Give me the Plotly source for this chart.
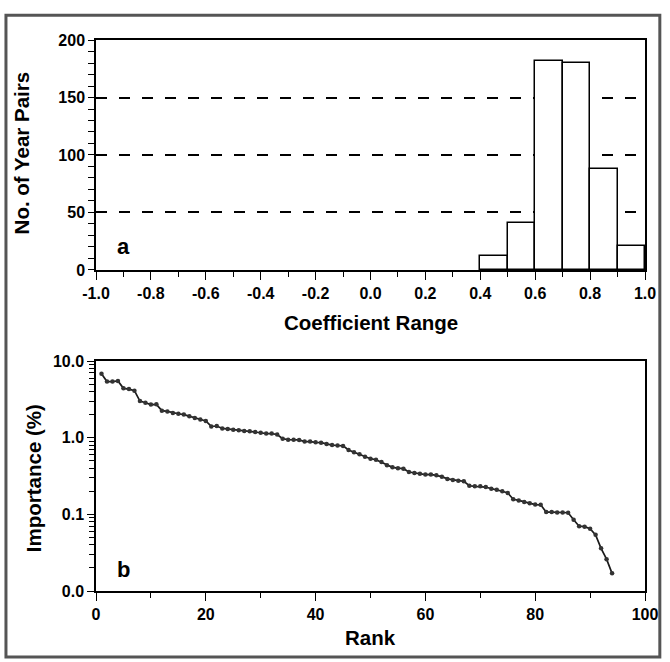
import plotly.graph_objects as go

# ---- panel a: histogram of coefficients ----
bin_left = [0.4, 0.5, 0.6, 0.7, 0.8, 0.9]
bin_width = 0.1
year_pairs = [12, 41, 182, 180, 88, 21]

# ---- panel b: importance by rank ----
importance = [
    6.8, 5.4, 5.4, 5.5, 4.4, 4.3, 4.1, 3.0, 2.85, 2.7,
    2.72, 2.25, 2.2, 2.1, 2.05, 2.0, 1.9, 1.8, 1.72, 1.65,
    1.4, 1.42, 1.32, 1.3, 1.27, 1.25, 1.22, 1.21, 1.19, 1.16,
    1.13, 1.13, 1.1, 0.97, 0.94, 0.94, 0.935, 0.89, 0.89, 0.87,
    0.86, 0.83, 0.8, 0.79, 0.78, 0.69, 0.645, 0.61, 0.565, 0.532,
    0.516, 0.48, 0.436, 0.41, 0.40, 0.394, 0.357, 0.346, 0.339, 0.33,
    0.332, 0.323, 0.31, 0.29, 0.28, 0.275, 0.27, 0.236, 0.232, 0.232,
    0.227, 0.216, 0.209, 0.2, 0.19, 0.157, 0.152, 0.145, 0.14, 0.134,
    0.133, 0.107, 0.107, 0.106, 0.106, 0.105, 0.085, 0.07, 0.069, 0.065,
    0.054, 0.036, 0.026, 0.017,
]
rank = list(range(1, len(importance) + 1))

x_ticks_a = [-1.0, -0.8, -0.6, -0.4, -0.2, 0.0, 0.2, 0.4, 0.6, 0.8, 1.0]
x_ticktext_a = ["-1.0", "-0.8", "-0.6", "-0.4", "-0.2", "0.0", "0.2", "0.4", "0.6", "0.8", "1.0"]
y_ticks_a = [0, 50, 100, 150, 200]
x_ticks_b = [0, 20, 40, 60, 80, 100]
y_ticks_b = [0.01, 0.1, 1, 10]
y_ticktext_b = ["0.0", "0.1", "1.0", "10.0"]
y_minor_b = [m * d for d in (0.01, 0.1, 1) for m in range(2, 10)]

FONT = "Liberation Sans, Arial, Helvetica, sans-serif"
tickfont = dict(family=FONT, size=16, color="black", weight="bold")
titlefont = dict(family=FONT, size=20.5, color="black")

fig = go.Figure()

fig.add_trace(go.Bar(
    x=[b + bin_width / 2 for b in bin_left], y=year_pairs, width=bin_width,
    marker=dict(color="white", line=dict(color="black", width=1.5)),
    xaxis="x", yaxis="y", showlegend=False,
))

fig.add_trace(go.Scatter(
    x=rank, y=importance, mode="lines+markers",
    line=dict(color="#1a1a1a", width=1.7),
    marker=dict(color="#333", size=4.5),
    xaxis="x2", yaxis="y2", showlegend=False,
))

axis_common = dict(showline=True, linecolor="black", linewidth=1.5, mirror=True,
                   ticks="outside", tickcolor="black", tickwidth=1.3,
                   tickfont=tickfont, zeroline=False)

fig.update_layout(
    width=670, height=662,
    margin=dict(l=96, r=19, t=40, b=71),
    paper_bgcolor="white", plot_bgcolor="white",
    bargap=0,
    xaxis=dict(axis_common, domain=[0, 1], anchor="y", range=[-1, 1],
               tickmode="array", tickvals=x_ticks_a, ticktext=x_ticktext_a, ticklen=8,
               minor=dict(dtick=0.1, tick0=-1, ticks="outside", ticklen=5, tickcolor="black"),
               showgrid=False),
    yaxis=dict(axis_common, domain=[0.5826, 1], anchor="x", range=[0, 200],
               tickmode="array", tickvals=y_ticks_a, ticklen=6,
               minor=dict(dtick=10, tick0=0, ticks="outside", ticklen=6, tickcolor="black"),
               showgrid=True, gridcolor="black", gridwidth=1.5, griddash="11px,12px"),
    xaxis2=dict(axis_common, domain=[0, 1], anchor="y2", range=[0, 100],
                tickmode="array", tickvals=x_ticks_b, ticklen=8,
                minor=dict(dtick=10, tick0=0, ticks="outside", ticklen=5, tickcolor="black"),
                showgrid=False),
    yaxis2=dict(axis_common, domain=[0, 0.4174], anchor="x2", type="log", range=[-2, 1],
                tickmode="array", tickvals=y_ticks_b, ticktext=y_ticktext_b, ticklen=7,
                minor=dict(tickmode="array", tickvals=y_minor_b, ticks="outside",
                           ticklen=5, tickcolor="black"),
                showgrid=False),
    annotations=[
        dict(text="<b>No. of Year Pairs</b>", xref="paper", yref="paper", x=-0.134, y=0.795,
             textangle=-90, showarrow=False, font=titlefont, xanchor="center", yanchor="middle"),
        dict(text="<b>Coefficient Range</b>", xref="paper", yref="paper", x=0.5, y=0.488,
             showarrow=False, font=titlefont, xanchor="center", yanchor="middle"),
        dict(text="<b>Importance (%)</b>", xref="paper", yref="paper", x=-0.114, y=0.2055,
             textangle=-90, showarrow=False, font=titlefont, xanchor="center", yanchor="middle"),
        dict(text="<b>Rank</b>", xref="paper", yref="paper", x=0.5, y=-0.085,
             showarrow=False, font=titlefont, xanchor="center", yanchor="middle"),
        dict(text="<b>a</b>", xref="x", yref="y", x=-0.9, y=20, showarrow=False,
             font=dict(family=FONT, size=22, color="black")),
        dict(text="<b>b</b>", xref="x2", yref="y2", x=5, y=-1.72, showarrow=False,
             font=dict(family=FONT, size=22, color="black")),
    ],
    shapes=[
        dict(type="rect", xref="paper", yref="paper", x0=-0.164, x1=1.027, y0=-0.12, y1=1.045,
             line=dict(color="#555", width=3), fillcolor="rgba(0,0,0,0)", layer="below"),
    ],
)

fig.write_html("out.html",
               config={"displayModeBar": False},
               post_script="document.body.style.margin='0';document.body.style.overflow='hidden';")
